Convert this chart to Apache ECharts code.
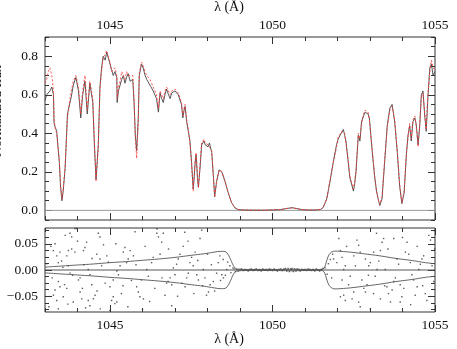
<!DOCTYPE html>
<html><head><meta charset="utf-8">
<script src="https://cdn.jsdelivr.net/npm/echarts@6/dist/echarts.min.js"></script>
<style>html,body{margin:0;padding:0;background:#fff;}#c{width:457px;height:349px;}</style>
</head><body><div id="c"></div>
<script>
// ---- data ----
const wave = [1043.00,1043.05,1043.10,1043.15,1043.21,1043.26,1043.28,1043.32,1043.36,1043.44,1043.48,1043.52,1043.56,1043.62,1043.69,1043.77,1043.82,1043.87,1043.95,1044.03,1044.10,1044.16,1044.23,1044.30,1044.38,1044.47,1044.52,1044.57,1044.64,1044.69,1044.74,1044.79,1044.85,1044.90,1044.95,1045.00,1045.05,1045.10,1045.15,1045.21,1045.22,1045.26,1045.31,1045.36,1045.41,1045.46,1045.51,1045.56,1045.62,1045.70,1045.74,1045.78,1045.82,1045.87,1045.90,1045.97,1046.02,1046.08,1046.13,1046.18,1046.23,1046.28,1046.33,1046.38,1046.43,1046.49,1046.54,1046.59,1046.64,1046.69,1046.74,1046.80,1046.85,1046.90,1046.95,1047.00,1047.05,1047.10,1047.15,1047.20,1047.24,1047.28,1047.31,1047.36,1047.41,1047.46,1047.51,1047.56,1047.59,1047.62,1047.65,1047.69,1047.72,1047.77,1047.82,1047.89,1047.93,1047.97,1048.02,1048.06,1048.13,1048.18,1048.22,1048.28,1048.36,1048.44,1048.54,1048.64,1048.74,1048.85,1048.95,1049.10,1049.40,1049.70,1050.00,1050.25,1050.45,1050.60,1050.75,1050.90,1051.10,1051.35,1051.48,1051.56,1051.67,1051.77,1051.87,1051.97,1052.02,1052.08,1052.13,1052.18,1052.22,1052.26,1052.33,1052.38,1052.44,1052.49,1052.53,1052.57,1052.64,1052.69,1052.74,1052.80,1052.85,1052.90,1052.94,1052.98,1053.05,1053.10,1053.14,1053.20,1053.25,1053.30,1053.37,1053.45,1053.53,1053.61,1053.68,1053.76,1053.84,1053.91,1053.98,1054.05,1054.12,1054.17,1054.22,1054.27,1054.32,1054.38,1054.42,1054.48,1054.53,1054.58,1054.63,1054.68,1054.73,1054.78,1054.84,1054.89,1054.94,1055.00];
const fluxObs = [0.57,0.60,0.59,0.62,0.64,0.60,0.45,0.43,0.41,0.25,0.12,0.05,0.10,0.22,0.50,0.56,0.60,0.65,0.69,0.62,0.48,0.60,0.67,0.50,0.66,0.56,0.34,0.16,0.34,0.64,0.74,0.80,0.78,0.82,0.79,0.76,0.73,0.70,0.72,0.69,0.56,0.62,0.65,0.68,0.70,0.66,0.69,0.71,0.67,0.68,0.56,0.39,0.31,0.48,0.70,0.76,0.74,0.70,0.68,0.67,0.65,0.64,0.62,0.61,0.58,0.51,0.61,0.58,0.56,0.60,0.63,0.60,0.58,0.61,0.60,0.62,0.61,0.60,0.59,0.55,0.48,0.52,0.54,0.46,0.41,0.36,0.25,0.11,0.17,0.25,0.29,0.17,0.12,0.22,0.34,0.36,0.34,0.35,0.33,0.35,0.30,0.18,0.07,0.15,0.21,0.20,0.15,0.09,0.04,0.012,0.004,0.002,0.001,0.001,0.002,0.004,0.010,0.014,0.009,0.004,0.002,0.002,0.005,0.015,0.06,0.15,0.25,0.34,0.37,0.39,0.40,0.42,0.39,0.36,0.25,0.17,0.18,0.10,0.14,0.20,0.39,0.36,0.46,0.49,0.51,0.52,0.50,0.48,0.34,0.25,0.18,0.10,0.06,0.025,0.06,0.25,0.44,0.53,0.55,0.46,0.30,0.13,0.035,0.09,0.29,0.39,0.44,0.36,0.46,0.48,0.45,0.34,0.44,0.60,0.62,0.50,0.41,0.58,0.74,0.76,0.70,0.72];
const fluxModel = [0.66,0.68,0.72,0.74,0.70,0.62,0.47,0.42,0.40,0.26,0.13,0.06,0.11,0.23,0.48,0.58,0.63,0.67,0.70,0.64,0.50,0.62,0.70,0.52,0.67,0.58,0.36,0.15,0.33,0.62,0.72,0.79,0.80,0.83,0.80,0.77,0.72,0.72,0.74,0.70,0.58,0.64,0.67,0.72,0.71,0.68,0.72,0.70,0.69,0.70,0.58,0.37,0.27,0.46,0.71,0.77,0.75,0.72,0.70,0.69,0.68,0.66,0.64,0.62,0.60,0.53,0.62,0.60,0.58,0.62,0.64,0.62,0.60,0.62,0.61,0.63,0.62,0.61,0.60,0.56,0.49,0.53,0.55,0.47,0.42,0.35,0.24,0.10,0.18,0.26,0.30,0.18,0.12,0.23,0.35,0.37,0.35,0.36,0.34,0.35,0.31,0.18,0.07,0.15,0.21,0.20,0.15,0.09,0.04,0.012,0.004,0.002,0.001,0.001,0.002,0.004,0.010,0.013,0.009,0.004,0.002,0.002,0.005,0.016,0.06,0.16,0.25,0.33,0.38,0.38,0.41,0.42,0.40,0.35,0.26,0.18,0.17,0.11,0.15,0.21,0.40,0.37,0.45,0.50,0.52,0.51,0.51,0.47,0.35,0.26,0.18,0.10,0.06,0.03,0.07,0.26,0.43,0.52,0.54,0.47,0.31,0.14,0.04,0.10,0.30,0.38,0.45,0.37,0.47,0.49,0.44,0.33,0.45,0.59,0.61,0.51,0.42,0.60,0.72,0.78,0.74,0.73];

const resWave = [1043.31,1043.26,1043.36,1043.46,1043.41,1043.51,1043.67,1043.72,1043.62,1043.77,1043.82,1043.92,1043.97,1043.82,1043.92,1043.72,1043.77,1043.41,1043.46,1043.31,1043.36,1043.26,1043.41,1043.56,1043.67,1043.87,1044.08,1044.13,1044.03,1044.08,1044.18,1044.23,1044.28,1044.33,1044.38,1044.44,1044.49,1044.54,1044.33,1044.38,1044.59,1044.64,1044.69,1044.69,1044.74,1044.90,1044.85,1045.00,1045.10,1045.15,1045.21,1045.00,1045.05,1045.10,1045.21,1045.26,1045.31,1045.41,1045.46,1045.51,1045.56,1045.62,1045.72,1045.77,1045.82,1045.87,1045.92,1046.03,1045.97,1046.13,1046.18,1046.28,1046.33,1046.44,1046.49,1046.54,1046.59,1046.64,1046.69,1046.74,1046.79,1046.85,1046.90,1046.95,1047.00,1047.05,1047.10,1047.15,1047.21,1047.31,1047.36,1047.41,1047.46,1047.51,1047.56,1047.62,1047.67,1047.72,1047.77,1047.82,1047.87,1047.92,1047.97,1048.03,1048.08,1048.18,1048.28,1048.33,1048.38,1048.44,1048.49,1048.59,1048.69,
1043.05,1043.12,1043.18,1043.22,1043.55,1043.60,1043.85,1044.00,1044.15,1044.20,1044.45,1044.60,1044.80,1044.95,1045.18,1045.35,1045.40,1045.66,1045.80,1046.08,1046.22,1046.38,1046.60,1046.80,1047.08,1047.25,1047.40,1047.58,1047.70,1047.85,1048.00,1048.12,1048.22,1048.40,1048.48,1048.55,1048.62,1048.72,1048.78,1043.70,1044.25,1044.70,1045.55,1046.00,1046.45,1047.30,1046.90,
1048.82,1048.86,1048.90,1048.95,1049.00,1049.05,1049.10,1049.15,1049.20,1049.25,1049.30,1049.35,1049.40,1049.45,1049.50,1049.55,1049.60,1049.65,1049.70,1049.75,1049.80,1049.85,1049.90,1049.95,1050.00,1050.05,1050.10,1050.15,1050.20,1050.25,1050.30,1050.35,1050.40,1050.44,1050.48,1050.52,1050.56,1050.60,1050.64,1050.68,1050.72,1050.76,1050.80,1050.85,1050.90,1050.95,1051.00,1051.05,1051.10,1051.15,1051.20,1051.25,1051.30,1051.35,1051.40,1051.45,1051.50,1051.55,
1051.62,1051.68,1051.72,1051.78,1051.82,1051.85,
1052.04,1052.09,1052.14,1051.98,1051.88,1052.19,1052.24,1052.14,1052.19,1052.24,1052.09,1052.34,1052.39,1052.50,1052.55,1052.60,1052.65,1052.70,1052.75,1052.81,1052.86,1052.91,1052.96,1053.01,1053.01,1053.11,1053.16,1053.22,1053.27,1053.32,1053.37,1053.42,1053.47,1053.52,1053.57,1053.63,1053.68,1053.73,1053.78,1053.83,1053.88,1053.93,1053.98,1054.04,1054.09,1054.14,1054.19,1054.24,1054.29,1054.34,1054.39,1054.45,1054.50,1054.55,1054.60,1054.65,1054.70,1054.75,1054.81,1054.86,1054.91,1054.96,1052.50,1052.45,1052.65,1053.32,1052.86,1053.11,1053.73,1053.93,
1052.28,1052.70,1053.20,1053.55,1054.00,1054.25,1054.62,1054.98,1054.99,1052.95,1053.45,1054.45];
const resVal = [0.050,0.037,0.027,0.034,0.014,0.017,0.027,0.037,0.066,0.070,0.063,0.079,0.079,0.040,0.034,0.008,-0.006,-0.022,-0.032,-0.038,-0.058,-0.048,-0.074,-0.051,-0.035,-0.061,-0.042,-0.055,-0.019,-0.015,0.037,0.043,0.053,0.001,-0.009,-0.028,-0.055,-0.048,-0.058,-0.068,0.030,0.070,0.063,0.021,0.008,0.027,-0.025,-0.032,-0.051,-0.064,-0.061,-0.077,-0.058,-0.019,-0.002,-0.009,0.008,0.034,0.043,0.014,0.021,0.037,0.027,0.073,-0.032,-0.042,-0.051,-0.055,-0.019,0.001,-0.012,0.014,0.024,0.070,0.063,0.030,0.053,0.070,-0.048,-0.025,-0.022,-0.015,-0.028,0.004,-0.009,0.011,0.021,0.030,-0.025,-0.032,-0.015,-0.006,0.014,0.024,0.008,0.034,-0.009,-0.019,0.060,0.076,0.001,-0.015,-0.048,-0.042,-0.028,-0.022,-0.006,0.014,0.027,-0.009,-0.015,0.001,0.008,
0.012,-0.070,0.045,-0.015,0.005,-0.028,-0.010,0.055,-0.035,0.010,0.022,-0.040,0.048,0.015,0.050,-0.045,-0.030,-0.020,0.010,0.045,-0.060,-0.035,-0.015,0.040,-0.050,0.045,0.055,-0.045,0.018,-0.030,0.030,0.010,-0.040,-0.020,0.020,-0.010,0.015,-0.005,0.004,-0.065,-0.072,-0.074,-0.070,-0.075,0.078,0.072,-0.068,
0.002,-0.003,0.001,-0.002,0.001,0.002,-0.001,0.001,0.000,-0.002,0.001,0.002,-0.001,0.001,0.002,-0.001,0.001,-0.002,0.002,0.000,0.001,-0.001,0.002,0.001,-0.001,0.002,0.000,-0.002,0.001,0.002,-0.001,0.002,0.003,-0.002,0.003,-0.003,0.002,0.003,-0.003,0.002,-0.002,0.002,0.001,-0.002,0.001,0.000,0.001,-0.001,0.002,0.001,-0.001,0.001,-0.002,0.002,0.000,-0.002,0.001,0.003,
0.004,-0.008,0.012,0.020,-0.015,0.030,
0.060,0.037,0.024,0.014,0.021,0.001,0.008,-0.019,-0.048,-0.058,-0.051,-0.028,-0.012,0.027,0.008,0.057,0.047,0.034,-0.019,-0.035,-0.042,-0.028,0.008,0.014,-0.074,-0.045,-0.012,0.001,0.017,0.037,0.053,0.060,0.001,-0.032,-0.045,-0.061,-0.038,-0.022,-0.015,0.021,0.011,-0.028,-0.051,-0.035,0.034,0.053,0.030,0.014,-0.009,-0.019,-0.048,-0.032,0.001,0.011,0.021,0.027,-0.045,-0.058,0.066,0.057,0.008,-0.022,-0.042,-0.055,-0.061,-0.055,0.021,0.034,0.060,-0.061,
0.045,-0.070,0.070,0.040,0.062,-0.066,-0.030,0.075,0.040,-0.010,-0.030,0.045];

const envWave = [1043.0,1043.5,1044.0,1044.5,1045.0,1045.5,1046.0,1046.5,1047.0,1047.5,1047.9,1048.2,1048.4,1048.5,1048.57,1048.63,1048.68,1048.74,1048.8,1048.9,1049.2,1049.8,1050.4,1050.6,1050.8,1051.2,1051.5,1051.58,1051.63,1051.68,1051.74,1051.82,1051.92,1052.1,1052.4,1052.8,1053.3,1053.8,1054.3,1054.7,1055.0];
const envSig = [0.0055,0.0075,0.0095,0.0115,0.014,0.016,0.0185,0.021,0.024,0.028,0.031,0.034,0.0355,0.0355,0.034,0.030,0.024,0.016,0.008,0.002,0.001,0.001,0.0012,0.0015,0.0012,0.001,0.001,0.003,0.010,0.020,0.029,0.034,0.036,0.0355,0.034,0.031,0.027,0.022,0.018,0.014,0.012];

const xTickLabels = [1045,1050,1055];
const topYTickLabels = [0.0,0.2,0.4,0.6,0.8];
const botYTickLabels = [-0.05,0.00,0.05];
const botYMinorTicks = [-0.075,-0.0625,-0.05,-0.0375,-0.025,-0.0125,0,0.0125,0.025,0.0375,0.05,0.0625,0.075];

// ---- chart ----
const FONT = 'Liberation Serif';
const FONT_STR = '14px Liberation Serif';
const AX = '#333';
const X_MIN = 1043, X_MAX = 1055;
const isIn = (v, list) => list.some(t => Math.abs(t - v) < 1e-6);
const labelStyle = (margin, fmt) => ({show:true, fontFamily:FONT, fontSize:13.5, color:'#111', margin, formatter:fmt});

function base(g, pos, min, max) {
  return {type:'value', gridIndex:g, position:pos, min, max,
    axisLine:{show:false, onZero:false}, splitLine:{show:false}, axisLabel:{show:false}};
}
function majorTicks(a, vals) { a.axisTick = {show:true, inside:true, length:7, customValues:vals, lineStyle:{color:AX, width:1}}; return a; }
function minorTicks(a, interval, vals) {
  a.axisTick = {show:true, inside:true, length:4, lineStyle:{color:AX, width:1}};
  if (vals) a.axisTick.customValues = vals; else a.interval = interval;
  return a;
}
function labelAxis(g, pos, min, max, interval, margin, fmt) {
  const a = base(g, pos, min, max);
  a.interval = interval;
  a.axisTick = {show:false};
  a.axisLabel = labelStyle(margin, fmt);
  return a;
}

const fmtX = v => isIn(v, xTickLabels) ? String(Math.round(v)) : '';
const fmtTop = v => isIn(v, topYTickLabels) ? v.toFixed(1) : '';
const fmtBot = v => isIn(v, botYTickLabels) ? (v < -1e-9 ? '\u2212' : '') + Math.abs(v).toFixed(2) : '';

const xAxes = [
  majorTicks(base(0,'top',X_MIN,X_MAX), xTickLabels), minorTicks(base(0,'top',X_MIN,X_MAX), 1),
  majorTicks(base(0,'bottom',X_MIN,X_MAX), xTickLabels), minorTicks(base(0,'bottom',X_MIN,X_MAX), 1),
  majorTicks(base(1,'top',X_MIN,X_MAX), xTickLabels), minorTicks(base(1,'top',X_MIN,X_MAX), 1),
  majorTicks(base(1,'bottom',X_MIN,X_MAX), xTickLabels), minorTicks(base(1,'bottom',X_MIN,X_MAX), 1),
  labelAxis(0,'top',X_MIN,X_MAX,1,5,fmtX),
  labelAxis(1,'bottom',X_MIN,X_MAX,1,6,fmtX)
];
const yAxes = [
  majorTicks(base(0,'left',-0.05,0.9), topYTickLabels), minorTicks(base(0,'left',-0.05,0.9), 0.05),
  majorTicks(base(0,'right',-0.05,0.9), topYTickLabels), minorTicks(base(0,'right',-0.05,0.9), 0.05),
  majorTicks(base(1,'left',-0.08,0.08), botYTickLabels), minorTicks(base(1,'left',-0.08,0.08), null, botYMinorTicks),
  majorTicks(base(1,'right',-0.08,0.08), botYTickLabels), minorTicks(base(1,'right',-0.08,0.08), null, botYMinorTicks),
  labelAxis(0,'left',-0.05,0.9,0.05,7,fmtTop),
  labelAxis(1,'left',-0.08,0.08,0.01,7,fmtBot)
];

const zip = (a,b,f) => a.map((x,i)=>[x, f ? f(b[i]) : b[i]]);
const txt = (t, x, y, rot) => ({type:'text', x, y, rotation:rot||0,
  style:{text:t, font:FONT_STR, fill:'#111', textAlign:'center', textVerticalAlign:'middle'}});

const option = {
  animation:false,
  backgroundColor:'#fff',
  grid:[
    {left:45, top:37, width:390, height:183, show:true, borderColor:AX, borderWidth:1, backgroundColor:'transparent'},
    {left:45, top:228, width:390, height:84, show:true, borderColor:AX, borderWidth:1, backgroundColor:'transparent'}
  ],
  xAxis:xAxes,
  yAxis:yAxes,
  graphic:[
    txt('\u03bb (\u00c5)', 229, 7),
    txt('\u03bb (\u00c5)', 229, 339),
    txt('Normalized flux', -2.5, 111, Math.PI/2),
    txt('Residuals', -4, 271, Math.PI/2)
  ],
  series:[
    {type:'line', xAxisIndex:0, yAxisIndex:0, data:[[X_MIN,0],[X_MAX,0]], showSymbol:false, silent:true,
      lineStyle:{color:'#999', width:1}},
    {type:'line', xAxisIndex:0, yAxisIndex:0, data:zip(wave,fluxObs), showSymbol:false, silent:true,
      lineStyle:{color:'#444', width:0.9}},
    {type:'line', xAxisIndex:0, yAxisIndex:0, data:zip(wave,fluxModel), showSymbol:false, silent:true,
      lineStyle:{color:'#ff3b3b', width:0.9, type:[2,2]}},
    {type:'line', xAxisIndex:4, yAxisIndex:4, data:[[X_MIN,0],[X_MAX,0]], showSymbol:false, silent:true,
      lineStyle:{color:'#444', width:0.9}},
    {type:'line', xAxisIndex:4, yAxisIndex:4, data:zip(envWave,envSig), showSymbol:false, silent:true, smooth:0.4,
      lineStyle:{color:'#555', width:0.9}},
    {type:'line', xAxisIndex:4, yAxisIndex:4, data:zip(envWave,envSig,v=>-v), showSymbol:false, silent:true, smooth:0.4,
      lineStyle:{color:'#555', width:0.9}},
    {type:'scatter', xAxisIndex:4, yAxisIndex:4, data:zip(resWave,resVal), symbol:'rect', symbolSize:1.4, silent:true,
      itemStyle:{color:'#333'}}
  ]
};
const chart = echarts.init(document.getElementById('c'));
chart.setOption(option);
</script>
</body></html>
